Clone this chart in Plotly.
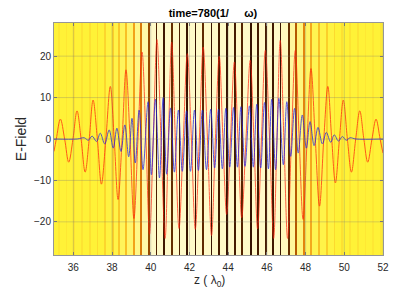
import plotly.graph_objects as go

# ---------------- data ----------------
# red curve: extrema and zero crossings (x in lambda0, E-field)
red_x = [35.0, 35.12, 35.33, 35.55, 35.76, 35.98, 36.19, 36.40, 36.61, 36.82, 37.02,
         37.24, 37.45, 37.68, 37.91, 38.11, 38.31, 38.52, 38.72, 38.93, 39.13,
         39.34, 39.55, 39.75, 39.94, 40.13, 40.32, 40.53, 40.74, 40.91, 41.08,
         41.27, 41.46, 41.68, 41.89, 42.10, 42.30, 42.51, 42.71, 42.93, 43.14,
         43.34, 43.54, 43.73, 43.92, 44.12, 44.32, 44.51, 44.70, 44.92, 45.14,
         45.33, 45.52, 45.72, 45.92, 46.14, 46.35, 46.52, 46.69, 46.88, 47.07,
         47.27, 47.47, 47.67, 47.87, 48.08, 48.28, 48.50, 48.72, 48.94, 49.15,
         49.35, 49.54, 49.75, 49.95, 50.16, 50.37, 50.59, 50.80, 51.01, 51.21,
         51.43, 51.64, 51.85, 52.0]
red_y = [-3.0, 0.0, 4.8, 0.0, -5.6, 0.0, 6.8, 0.0, -8.0, 0.0, 9.4,
         0.0, -10.9, 0.0, 12.7, 0.0, -14.6, 0.0, 16.7, 0.0, -19.2,
         0.0, 21.0, 0.0, -23.0, 0.0, 24.0, 0.0, -24.0, 0.0, 23.4,
         0.0, -21.6, 0.0, 20.6, 0.0, -21.8, 0.0, 22.2, 0.0, -23.3,
         0.0, 20.0, 0.0, -18.2, 0.0, 18.6, 0.0, -19.0, 0.0, 19.0,
         0.0, -21.7, 0.0, 21.4, 0.0, -24.0, 0.0, 23.8, 0.0, -24.0,
         0.0, 21.4, 0.0, -19.4, 0.0, 17.0, 0.0, -16.2, 0.0, 12.7,
         0.0, -10.6, 0.0, 9.4, 0.0, -8.0, 0.0, 6.8, 0.0, -5.6,
         0.0, 4.8, 0.0, -3.4]

# blue curve extrema
blue_x = [35.0, 36.2, 36.56, 36.77, 36.97, 37.2, 37.39, 37.62, 37.85, 38.06,
          38.25, 38.46, 38.66, 38.86, 39.03, 39.2, 39.4, 39.6, 39.86, 40.03,
          40.24, 40.45, 40.64, 40.82, 41.02, 41.22, 41.43, 41.63, 41.85, 42.05,
          42.26, 42.46, 42.67, 42.88, 43.10, 43.30, 43.50, 43.70, 43.88, 44.08,
          44.28, 44.48, 44.66, 44.87, 45.10, 45.30, 45.48, 45.68, 45.88, 46.08,
          46.25, 46.45, 46.62, 46.85, 47.03, 47.23, 47.43, 47.62, 47.83, 48.04,
          48.23, 48.44, 48.64, 48.87, 49.07, 49.3, 49.48, 49.7, 49.9, 50.1,
          50.3, 50.6, 52.0]
blue_y = [0.0, 0.0, 0.3, -0.3, 0.7, -0.6, 1.4, -1.2, 2.2, -2.2,
          2.6, -3.0, 3.4, -4.3, 5.0, -5.8, 7.0, -7.4, 9.0, -8.6,
          9.6, -9.4, 10.0, -8.5, 7.5, -8.0, 7.0, -7.8, 6.8, -7.8,
          7.0, -7.6, 7.0, -7.4, 7.2, -7.0, 7.2, -7.2, 7.4, -6.8,
          7.6, -6.8, 7.8, -6.6, 8.0, -6.8, 8.4, -7.0, 8.8, -7.2,
          9.6, -7.4, 9.8, -6.2, 9.0, -4.2, 7.4, -3.4, 5.8, -2.2,
          4.2, -1.6, 2.8, -1.2, 1.6, -0.8, 1.0, -0.5, 0.6, -0.3,
          0.3, 0.0, 0.0]

# background density stripes (centre, colour level 0 dark .. 1 white)
stripe_x = [35.25, 35.65, 36.05, 36.45, 36.85, 37.25, 37.65, 38.03, 38.36, 38.72,
            39.12, 39.49, 39.89, 40.29, 40.67, 41.10, 41.48, 41.88, 42.31, 42.70,
            43.14, 43.52, 43.95, 44.35, 44.72, 45.16, 45.55, 45.94, 46.33, 46.70,
            47.13, 47.50, 47.90, 48.28, 48.68, 49.12, 49.50, 49.90, 50.30, 50.70,
            51.10, 51.50, 51.90]
stripe_level = [0.77, 0.77, 0.76, 0.76, 0.75, 0.74, 0.72, 0.70, 0.68, 0.66,
                0.58, 0.46, 0.30, 0.12, 0.08, 0.20, 0.12, 0.05, 0.05, 0.18,
                0.05, 0.10, 0.05, 0.10, 0.15, 0.05, 0.10, 0.10, 0.08, 0.06,
                0.20, 0.36, 0.50, 0.60, 0.66, 0.70, 0.73, 0.75, 0.76, 0.76,
                0.77, 0.77, 0.77]
gap_level = [0.80, 0.80, 0.80, 0.80, 0.80, 0.80, 0.80, 0.81, 0.82, 0.84, 0.86,
             0.89, 0.92, 0.95, 0.95, 0.95, 0.95, 0.95, 0.95, 0.95, 0.95,
             0.95, 0.95, 0.95, 0.95, 0.95, 0.95, 0.95, 0.95, 0.95, 0.94,
             0.91, 0.88, 0.85, 0.83, 0.82, 0.81, 0.80, 0.80, 0.80, 0.80,
             0.80, 0.80, 0.80]

x_ticks = [36, 38, 40, 42, 44, 46, 48, 50, 52]
y_ticks = [-20, -10, 0, 10, 20]
x_range = [35, 52]
y_range = [-28, 28]

# ---------------- build background image ----------------
half_w = 0.045
edges = [x_range[0]]
zrow = [gap_level[0]]
for c, lv, g in zip(stripe_x, stripe_level, gap_level[1:]):
    edges += [c - half_w, c + half_w]
    zrow += [lv, g]
edges.append(x_range[1])

bg_scale = [[0.0, "rgb(40,10,0)"], [0.2, "rgb(100,45,0)"], [0.4, "rgb(200,100,0)"],
            [0.55, "rgb(240,150,20)"], [0.68, "rgb(250,200,40)"], [0.8, "rgb(255,242,55)"],
            [0.88, "rgb(255,246,125)"], [0.95, "rgb(255,250,200)"], [1.0, "rgb(255,255,235)"]]

fig = go.Figure()
fig.add_trace(go.Heatmap(x=edges, y=y_range, z=[zrow], colorscale=bg_scale,
                         zmin=0, zmax=1, showscale=False, hoverinfo="skip"))
fig.add_trace(go.Scatter(x=red_x, y=red_y, mode="lines", opacity=0.7,
                         line=dict(color="rgb(255,30,10)", width=1, shape="spline", smoothing=1.0)))
fig.add_trace(go.Scatter(x=blue_x, y=blue_y, mode="lines", opacity=0.75,
                         line=dict(color="rgb(30,30,230)", width=1, shape="spline", smoothing=1.0)))

# faint grid lines drawn above the image (as MATLAB does)
shapes = []
for t in x_ticks:
    shapes.append(dict(type="line", xref="x", yref="paper", x0=t, x1=t, y0=0, y1=1,
                       line=dict(color="rgba(120,120,120,0.3)", width=1), layer="above"))
for t in y_ticks:
    shapes.append(dict(type="line", xref="paper", yref="y", x0=0, x1=1, y0=t, y1=t,
                       line=dict(color="rgba(120,120,120,0.3)", width=1), layer="above"))

axis_common = dict(ticks="inside", ticklen=3, tickcolor="rgb(120,120,120)",
                   showline=True, linecolor="rgb(150,150,150)", linewidth=1,
                   mirror="ticks", showgrid=False, zeroline=False, automargin=False,
                   tickfont=dict(family="Liberation Sans, Arial", size=10, color="rgb(40,40,40)"))

fig.update_layout(
    width=415, height=305,
    margin=dict(l=54, r=32, t=23, b=50, autoexpand=False),
    paper_bgcolor="white", plot_bgcolor="white",
    showlegend=False,
    shapes=shapes,
    title=dict(text="<b>time=780(1/&nbsp;&nbsp;&nbsp;&nbsp;&nbsp;ω)</b>", x=0.513, xanchor="center",
               y=0.957, yanchor="middle", automargin=False,
               font=dict(family="Liberation Sans, Arial", size=11, color="black")),
    xaxis=dict(range=x_range, tickvals=x_ticks, ticklabelstandoff=3, **axis_common),
    yaxis=dict(range=y_range, tickvals=y_ticks, title=dict(text="E-Field", standoff=4,
               font=dict(family="Liberation Sans, Arial", size=14, color="rgb(40,40,40)")),
               **axis_common),
    annotations=[dict(text="z ( λ<sub>0</sub>)", xref="paper", yref="paper",
                      x=0.473, y=-0.07, xanchor="center", yanchor="top", showarrow=False,
                      font=dict(family="Liberation Sans, Arial", size=12, color="rgb(40,40,40)"))],
)

fig.write_html("out.html", config={"displayModeBar": False},
               post_script="document.body.style.margin='0';document.body.style.overflow='hidden';")
